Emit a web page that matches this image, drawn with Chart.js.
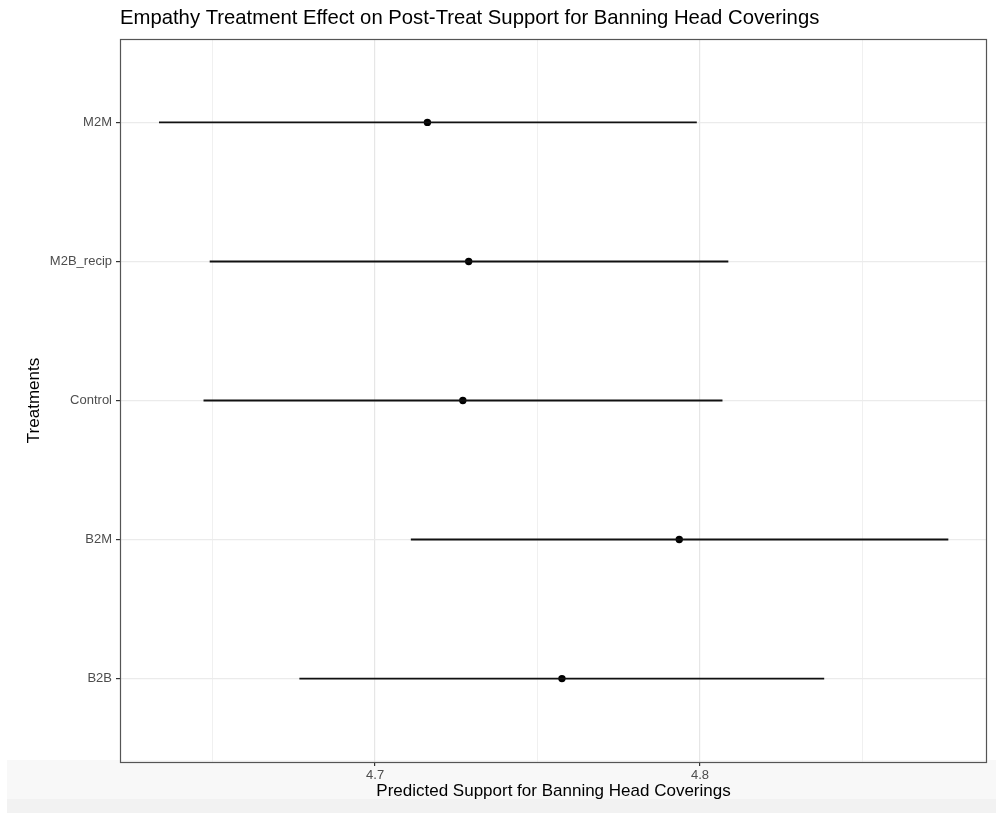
<!DOCTYPE html>
<html>
<head>
<meta charset="utf-8">
<script src="https://cdn.jsdelivr.net/npm/chart.js@4"></script>
<style>
  body { margin: 0; background: #fff; overflow: hidden; }
  #wrap { position: relative; width: 996px; height: 814px; }
  .band1 { position: absolute; left: 7px; top: 760px; width: 989px; height: 39px; background: #f8f8f8; }
  .band2 { position: absolute; left: 7px; top: 799px; width: 989px; height: 14px; background: #f2f2f2; }
  canvas { position: absolute; left: 0; top: 0; }
</style>
</head>
<body>
<div id="wrap">
  <div class="band1"></div>
  <div class="band2"></div>
  <canvas id="chartEfeito"></canvas>
</div>
<script>
// treatments listed bottom to top, like the factor order on the y axis
const treatments = ["B2B", "B2M", "Control", "M2B_recip", "M2M"];
const estimate = [4.7575, 4.7936, 4.7270, 4.7288, 4.7161];
const lower = [4.6767, 4.7110, 4.6472, 4.6491, 4.6335];
const upper = [4.8382, 4.8764, 4.8069, 4.8087, 4.7990];
const xGrid = [4.65, 4.7, 4.75, 4.8, 4.85];
const xLabels = [4.7, 4.8];

const font = "'Liberation Sans', Arial, Helvetica, sans-serif";
const isMajor = v => xLabels.some(l => Math.abs(l - v) < 1e-9);

const panelBox = {
  id: "panelBox",
  afterDraw(chart) {
    const { ctx, chartArea: a } = chart;
    ctx.save();
    ctx.strokeStyle = "#555555";
    ctx.lineWidth = 1.2;
    ctx.strokeRect(a.left + 0.5, a.top + 0.5, a.right - a.left - 1, a.bottom - a.top);
    ctx.fillStyle = "#000";
    ctx.font = "20.3px " + font;
    ctx.textBaseline = "middle";
    ctx.textAlign = "left";
    ctx.fillText("Empathy Treatment Effect on Post-Treat Support for Banning Head Coverings", a.left, 18);
    ctx.restore();
  }
};

document.addEventListener("DOMContentLoaded", () => {
  const ctx = document.getElementById("chartEfeito");

  const bars = treatments.map((t, i) => ({
    data: [{ x: lower[i], y: i + 1 }, { x: upper[i], y: i + 1 }],
    showLine: true,
    borderColor: "#111",
    borderWidth: 1.9,
    pointRadius: 0,
    pointHoverRadius: 0
  }));

  new Chart(ctx, {
    type: "scatter",
    data: {
      datasets: [
        ...bars,
        {
          data: treatments.map((t, i) => ({ x: estimate[i], y: i + 1 })),
          backgroundColor: "#000",
          borderColor: "#000",
          pointRadius: 3.7,
          pointBorderWidth: 0
        }
      ]
    },
    options: {
      responsive: true,
      maintainAspectRatio: false,
      animation: false,
      layout: { padding: { top: 39, right: 9, left: 0, bottom: 0 } },
      plugins: { legend: { display: false }, tooltip: { enabled: false }, title: { display: false } },
      scales: {
        x: {
          type: "linear",
          min: 4.6215,
          max: 4.8883,
          afterBuildTicks: s => { s.ticks = xGrid.map(v => ({ value: v })); },
          afterFit: s => { s.height = 52; },
          border: { display: false },
          grid: {
            color: c => isMajor(c.tick.value) ? "#e6e6e6" : "#f0f0f0",
            lineWidth: c => isMajor(c.tick.value) ? 1.2 : 1,
            tickColor: c => isMajor(c.tick.value) ? "#333" : "rgba(0,0,0,0)",
            tickLength: 4
          },
          ticks: {
            color: "#4d4d4d",
            font: { family: font, size: 13 },
            padding: 2,
            maxRotation: 0,
            callback: v => isMajor(v) ? String(v) : ""
          },
          title: {
            display: true,
            text: "Predicted Support for Banning Head Coverings",
            color: "#000",
            font: { family: font, size: 17 },
            padding: { top: 0, bottom: 12 }
          }
        },
        y: {
          type: "linear",
          min: 0.4,
          max: 5.6,
          afterBuildTicks: s => { s.ticks = treatments.map((t, i) => ({ value: i + 1 })); },
          afterFit: s => { s.width = 120; },
          border: { display: false },
          grid: { color: "#ebebeb", lineWidth: 1.2, tickColor: "#333", tickLength: 4 },
          ticks: {
            color: "#4d4d4d",
            font: { family: font, size: 13 },
            padding: 4,
            callback: v => treatments[v - 1]
          },
          title: {
            display: true,
            text: "Treatments",
            color: "#000",
            font: { family: font, size: 17 },
            padding: { top: 24, bottom: 0 }
          }
        }
      }
    },
    plugins: [panelBox]
  });
});
</script>
</body>
</html>
